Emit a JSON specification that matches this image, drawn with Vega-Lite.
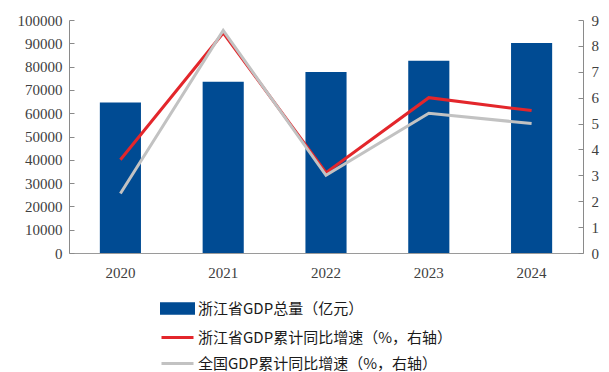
{
  "$schema": "https://vega.github.io/schema/vega-lite/v6.json",
  "width": 514,
  "height": 233,
  "autosize": {"type": "none"},
  "padding": {"left": 69, "top": 20, "right": 26, "bottom": 119},
  "background": "white",
  "config": {
    "view": {"stroke": null},
    "axis": {
      "labelFont": "Liberation Serif",
      "labelFontSize": 15,
      "labelColor": "#404040",
      "domainColor": "#8a8a8a",
      "tickColor": "#8a8a8a",
      "grid": false,
      "title": null
    }
  },
  "data": {
    "values": [
      {"year": "2020", "series": "浙江省GDP总量（亿元）", "value": 64613},
      {"year": "2021", "series": "浙江省GDP总量（亿元）", "value": 73516},
      {"year": "2022", "series": "浙江省GDP总量（亿元）", "value": 77715},
      {"year": "2023", "series": "浙江省GDP总量（亿元）", "value": 82553},
      {"year": "2024", "series": "浙江省GDP总量（亿元）", "value": 90131},
      {"year": "2020", "series": "浙江省GDP累计同比增速（%，右轴）", "value": 3.6},
      {"year": "2021", "series": "浙江省GDP累计同比增速（%，右轴）", "value": 8.5},
      {"year": "2022", "series": "浙江省GDP累计同比增速（%，右轴）", "value": 3.1},
      {"year": "2023", "series": "浙江省GDP累计同比增速（%，右轴）", "value": 6.0},
      {"year": "2024", "series": "浙江省GDP累计同比增速（%，右轴）", "value": 5.5},
      {"year": "2020", "series": "全国GDP累计同比增速（%，右轴）", "value": 2.3},
      {"year": "2021", "series": "全国GDP累计同比增速（%，右轴）", "value": 8.6},
      {"year": "2022", "series": "全国GDP累计同比增速（%，右轴）", "value": 3.0},
      {"year": "2023", "series": "全国GDP累计同比增速（%，右轴）", "value": 5.4},
      {"year": "2024", "series": "全国GDP累计同比增速（%，右轴）", "value": 5.0}
    ]
  },
  "layer": [
    {
      "transform": [{"filter": "datum.series === '浙江省GDP总量（亿元）'"}],
      "mark": {"type": "bar"},
      "encoding": {
        "x": {
          "field": "year",
          "type": "ordinal",
          "scale": {"paddingInner": 0.6, "paddingOuter": 0.3},
          "axis": {"labelAngle": 0, "ticks": false, "labelPadding": 12, "domainColor": "#9a9a9a"}
        },
        "y": {
          "field": "value",
          "type": "quantitative",
          "scale": {"domain": [0, 100000]},
          "axis": {
            "values": [0, 10000, 20000, 30000, 40000, 50000, 60000, 70000, 80000, 90000, 100000],
            "tickSize": -5,
            "labelPadding": 12,
            "format": "d"
          }
        },
        "color": {
          "field": "series",
          "type": "nominal",
          "scale": {
            "domain": ["浙江省GDP总量（亿元）", "浙江省GDP累计同比增速（%，右轴）", "全国GDP累计同比增速（%，右轴）"],
            "range": ["#004B93", "#E3262B", "#C2C2C2"]
          },
          "legend": {
            "orient": "none",
            "legendX": 91,
            "legendY": 271,
            "direction": "vertical",
            "title": null,
            "labelFont": "Noto Sans CJK SC",
            "labelFontSize": 15,
            "labelColor": "#1a1a1a",
            "labelLimit": 400,
            "labelOffset": 3,
            "symbolSize": 1024,
            "symbolStrokeWidth": 3,
            "rowPadding": -9,
            "encode": {
              "symbols": {
                "update": {
                  "shape": {"signal": "datum.value === '浙江省GDP总量（亿元）' ? 'M-1,-0.3H1V0.3H-1Z' : 'stroke'"},
                  "fill": {"signal": "datum.value === '浙江省GDP总量（亿元）' ? '#004B93' : 'transparent'"},
                  "stroke": {"signal": "datum.value === '浙江省GDP总量（亿元）' ? 'transparent' : (datum.value === '全国GDP累计同比增速（%，右轴）' ? '#C2C2C2' : '#E3262B')"},
                  "strokeWidth": {"value": 3}
                }
              }
            }
          }
        }
      }
    },
    {
      "transform": [{"filter": "datum.series !== '浙江省GDP总量（亿元）'"}],
      "mark": {"type": "line", "strokeWidth": 3},
      "encoding": {
        "x": {"field": "year", "type": "ordinal"},
        "y": {
          "field": "value",
          "type": "quantitative",
          "scale": {"domain": [0, 9]},
          "axis": {
            "orient": "right",
            "values": [0, 1, 2, 3, 4, 5, 6, 7, 8, 9],
            "tickSize": -5,
            "labelPadding": 13
          }
        },
        "color": {"field": "series", "type": "nominal"}
      }
    }
  ],
  "resolve": {"scale": {"y": "independent"}}
}
